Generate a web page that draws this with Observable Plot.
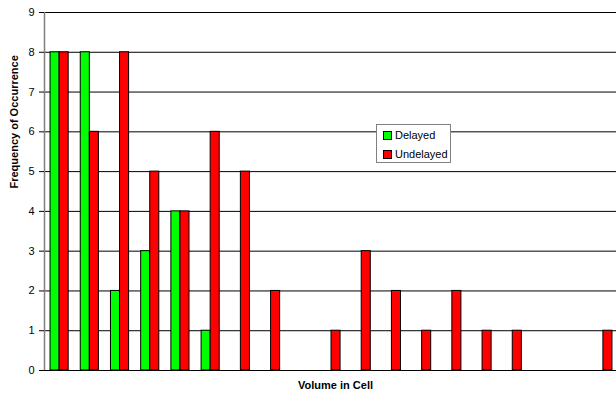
<!DOCTYPE html>
<html>
<head>
<meta charset="utf-8">
<script src="https://cdn.jsdelivr.net/npm/d3@7"></script>
<script src="https://cdn.jsdelivr.net/npm/@observablehq/plot@0.6"></script>
<style>
  html, body { margin: 0; padding: 0; background: #fff; overflow: hidden; }
  #wrap { position: relative; width: 616px; height: 397px; }
  #legend {
    position: absolute; left: 376px; top: 124px; width: 75px; height: 39px;
    border: 1px solid #808080; background: #fff; box-sizing: border-box;
    font: 11px "Liberation Sans", Arial, sans-serif; color: #000;
  }
  .item { position: absolute; left: 6px; height: 12px; line-height: 12px; white-space: nowrap; }
  .sw { display: inline-block; width: 7px; height: 7px; border: 1px solid #000; vertical-align: -1px; margin-right: 3px; }
</style>
</head>
<body>
<div id="wrap">
  <div id="chart"></div>
  <div id="legend"></div>
</div>
<script>
const categories = d3.range(1, 20); // 19 volume bins, unlabeled
const delayed   = [8, 8, 2, 3, 4, 1, 0, 0, 0, 0, 0, 0, 0, 0, 0, 0, 0, 0, 0];
const undelayed = [8, 6, 8, 5, 4, 6, 5, 2, 0, 1, 3, 2, 1, 2, 1, 1, 0, 0, 1];
const seriesNames = ["Delayed", "Undelayed"];
const seriesColors = ["#00ff00", "#ff0000"];
const yTicks = d3.range(0, 10);

const rows = [];
categories.forEach((c, i) => {
  if (delayed[i] > 0) rows.push({i, series: "Delayed", value: delayed[i], x1: i + 0.2, x2: i + 0.5});
  if (undelayed[i] > 0) rows.push({i, series: "Undelayed", value: undelayed[i], x1: i + 0.5, x2: i + 0.8});
});

const font = '"Liberation Sans", Arial, sans-serif';

const chart = Plot.plot({
  width: 616,
  height: 397,
  marginLeft: 44,
  marginRight: -2,
  marginTop: 12,
  marginBottom: 27,
  style: {fontFamily: font, fontSize: "11px", color: "#000", background: "#fff", maxWidth: "none"},
  x: {domain: [0, categories.length], axis: null},
  y: {domain: [0, 9], ticks: yTicks},
  color: {domain: seriesNames, range: seriesColors},
  marks: [
    Plot.gridY(yTicks, {stroke: "#000", strokeOpacity: 1, strokeWidth: 1}),
    Plot.rectY(rows, {x1: "x1", x2: "x2", y: "value", fill: "series", stroke: "#000", strokeWidth: 1}),
    Plot.ruleX([0], {stroke: "#808080", strokeWidth: 1.5}),
    Plot.axisY(yTicks, {tickSize: 5, tickPadding: 5, label: null, fontSize: 11, stroke: "#000"}),
    Plot.text(["Frequency of Occurrence"], {frameAnchor: "left", dx: -30, dy: -3, rotate: -90, fontWeight: "bold", fontSize: 11, fill: "#000"}),
    Plot.text(["Volume in Cell"], {frameAnchor: "bottom", dx: 4, dy: 18, fontWeight: "bold", fontSize: 11, fill: "#000"})
  ]
});
document.getElementById("chart").appendChild(chart);

const legend = document.getElementById("legend");
seriesNames.forEach((name, k) => {
  const item = document.createElement("div");
  item.className = "item";
  item.style.top = (4 + k * 19) + "px";
  const sw = document.createElement("span");
  sw.className = "sw";
  sw.style.background = seriesColors[k];
  item.appendChild(sw);
  item.appendChild(document.createTextNode(name));
  legend.appendChild(item);
});
</script>
</body>
</html>
